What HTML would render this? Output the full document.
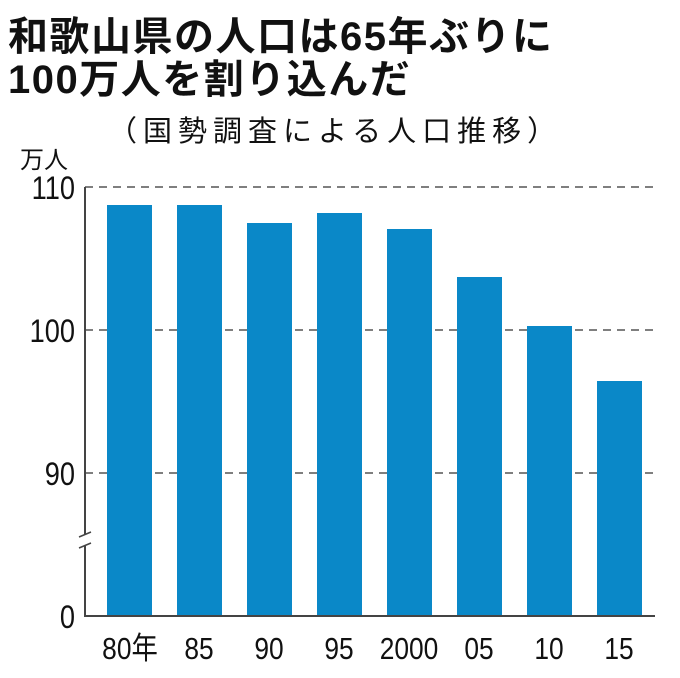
<!DOCTYPE html><html><head><meta charset="utf-8"><style>
body{margin:0;background:#fff;width:680px;height:678px;overflow:hidden;font-family:"Liberation Sans","Noto Sans CJK JP",sans-serif;}
.t{position:absolute;left:8px;font-size:40px;font-weight:bold;color:#111;white-space:nowrap;line-height:40px;letter-spacing:1.5px}
</style></head><body>
<div class="t" style="top:17px">和歌山県の人口は65年ぶりに</div>
<div class="t" style="top:60px">100万人を割り込んだ</div>
<div style="position:absolute;left:108px;top:117px;font-size:29px;line-height:30px;letter-spacing:6px;color:#111;white-space:nowrap">（国勢調査による人口推移）</div>
<svg width="680" height="678" style="position:absolute;left:0;top:0" font-family="Liberation Sans, Noto Sans CJK JP, sans-serif">
<text x="20" y="168" font-size="24" fill="#111">万人</text>
<g stroke="#555" stroke-width="1.5" stroke-dasharray="8,6">
<line x1="85" y1="187" x2="655" y2="187"/><line x1="85" y1="330" x2="655" y2="330"/><line x1="85" y1="473" x2="655" y2="473"/></g>
<g fill="#0a88c8">
<rect x="107" y="205" width="45" height="411"/><rect x="177" y="205" width="45" height="411"/>
<rect x="247" y="223" width="45" height="393"/><rect x="317" y="213" width="45" height="403"/>
<rect x="387" y="229" width="45" height="387"/><rect x="457" y="277" width="45" height="339"/>
<rect x="527" y="326" width="45" height="290"/><rect x="597" y="381" width="45" height="235"/></g>
<path d="M85 187V535M85 546V616H655" stroke="#444" stroke-width="2" fill="none"/>
<path d="M79 537L91 532M79 548L91 543" stroke="#444" stroke-width="1.5"/>
<g font-size="32" fill="#111" text-anchor="end">
<text x="75" y="199" transform="translate(75 0) scale(0.85 1) translate(-75 0)">110</text>
<text x="75" y="342" transform="translate(75 0) scale(0.85 1) translate(-75 0)">100</text>
<text x="75" y="485" transform="translate(75 0) scale(0.85 1) translate(-75 0)">90</text>
<text x="75" y="628" transform="translate(75 0) scale(0.85 1) translate(-75 0)">0</text></g>
<g font-size="31" fill="#111" text-anchor="middle">
<text x="130" y="659" transform="translate(130 0) scale(0.85 1) translate(-130 0)">80年</text>
<text x="199" y="659" transform="translate(199 0) scale(0.85 1) translate(-199 0)">85</text>
<text x="269" y="659" transform="translate(269 0) scale(0.85 1) translate(-269 0)">90</text>
<text x="339" y="659" transform="translate(339 0) scale(0.85 1) translate(-339 0)">95</text>
<text x="409" y="659" transform="translate(409 0) scale(0.85 1) translate(-409 0)">2000</text>
<text x="479" y="659" transform="translate(479 0) scale(0.85 1) translate(-479 0)">05</text>
<text x="549" y="659" transform="translate(549 0) scale(0.85 1) translate(-549 0)">10</text>
<text x="619" y="659" transform="translate(619 0) scale(0.85 1) translate(-619 0)">15</text></g>
</svg></body></html>
